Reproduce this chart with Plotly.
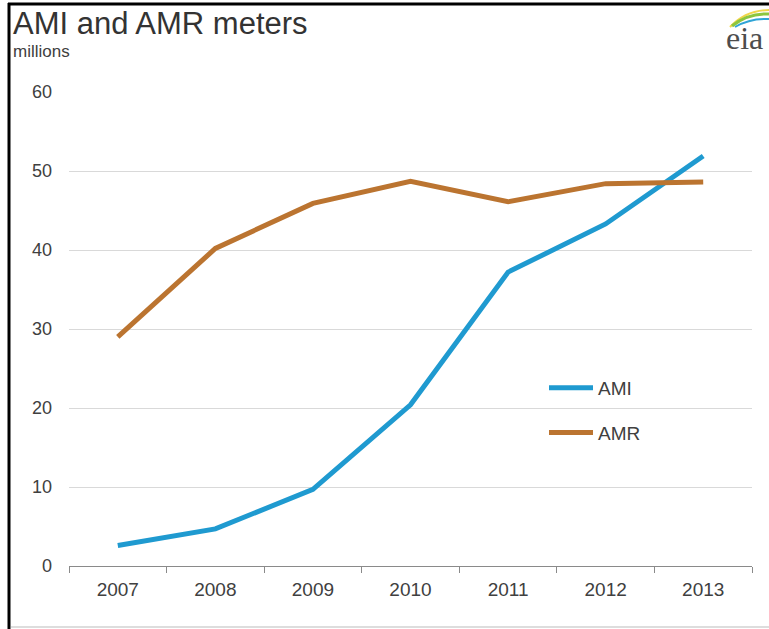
import plotly.graph_objects as go

years = ["2007", "2008", "2009", "2010", "2011", "2012", "2013"]
ami = [2.6, 4.7, 9.7, 20.4, 37.2, 43.3, 51.9]
amr = [29.0, 40.2, 45.9, 48.7, 46.1, 48.4, 48.6]
y_ticks = [0, 10, 20, 30, 40, 50, 60]

W, H = 769, 629
L, R, T, B = 69, 17, 92, 63
PW, PH = W - L - R, H - T - B

def px(x):
    return (x - L) / PW

def py(y):
    return (H - B - y) / PH

FONT = "Liberation Sans, Arial, sans-serif"

fig = go.Figure()
fig.add_trace(go.Scatter(x=years, y=ami, name="AMI", mode="lines",
                         line=dict(color="#1f9ad0", width=5), legendgroup="a"))
fig.add_trace(go.Scatter(x=years, y=amr, name="AMR", mode="lines",
                         line=dict(color="#bb7430", width=5), legendgroup="b"))

shapes = [
    dict(type="line", xref="paper", yref="paper", x0=px(8), x1=px(769), y0=py(4), y1=py(4),
         line=dict(color="black", width=3)),
    dict(type="line", xref="paper", yref="paper", x0=px(9), x1=px(9), y0=py(3), y1=py(629),
         line=dict(color="black", width=3)),
    dict(type="line", xref="paper", yref="paper", x0=px(11), x1=px(769), y0=py(627), y1=py(627),
         line=dict(color="#dddddd", width=2)),
]

def pth(points, color, width):
    (x0, y0), (cx, cy), (x1, y1) = points
    return dict(type="path", xref="paper", yref="paper",
                path=f"M {px(x0)},{py(y0)} Q {px(cx)},{py(cy)} {px(x1)},{py(y1)}",
                line=dict(color=color, width=width))

shapes += [
    pth([(730, 27), (746, 10), (769, 10)], "#f2d64b", 2),
    pth([(732, 26), (748, 13), (769, 14)], "#8cc63f", 3),
    pth([(735, 27), (750, 18), (769, 19)], "#2fa4d6", 2),
]

fig.update_layout(
    width=W, height=H,
    margin=dict(l=L, r=R, t=T, b=B),
    paper_bgcolor="white", plot_bgcolor="white",
    font=dict(family=FONT, color="#404040", size=18),
    title=dict(text="AMI and AMR meters", x=13 / W, xanchor="left", xref="container",
               y=1 - 23 / H, yanchor="middle", yref="container",
               font=dict(size=31, color="#333333", family=FONT)),
    xaxis=dict(type="category", range=[-0.5, 6.5], tickson="boundaries", ticks="outside",
               ticklen=6, tickcolor="#8a8a8a", showline=True, linecolor="#8a8a8a",
               linewidth=1, showgrid=False, ticklabelstandoff=6,
               tickfont=dict(size=19, color="#404040")),
    yaxis=dict(range=[0, 60], tickvals=y_ticks, showgrid=True, gridcolor="#d9d9d9",
               gridwidth=1, zeroline=False, showline=False, ticks="",
               ticklabelstandoff=16, tickfont=dict(size=18, color="#404040")),
    legend=dict(x=px(544), y=py(369), xanchor="left", yanchor="top",
                bgcolor="rgba(0,0,0,0)", font=dict(size=19, color="#404040", family=FONT),
                tracegroupgap=17, itemwidth=44, traceorder="grouped"),
    shapes=shapes,
    annotations=[
        dict(text="millions", xref="paper", yref="paper", x=px(11), y=py(52),
             xanchor="left", yanchor="middle", showarrow=False,
             font=dict(size=17, color="#404040", family=FONT)),
        dict(text="eia", xref="paper", yref="paper", x=px(744), y=py(38),
             xanchor="center", yanchor="middle", showarrow=False,
             font=dict(size=32, color="#4d4d4d", family="Liberation Serif, DejaVu Serif, serif")),
    ],
)

fig.write_html("out.html")
